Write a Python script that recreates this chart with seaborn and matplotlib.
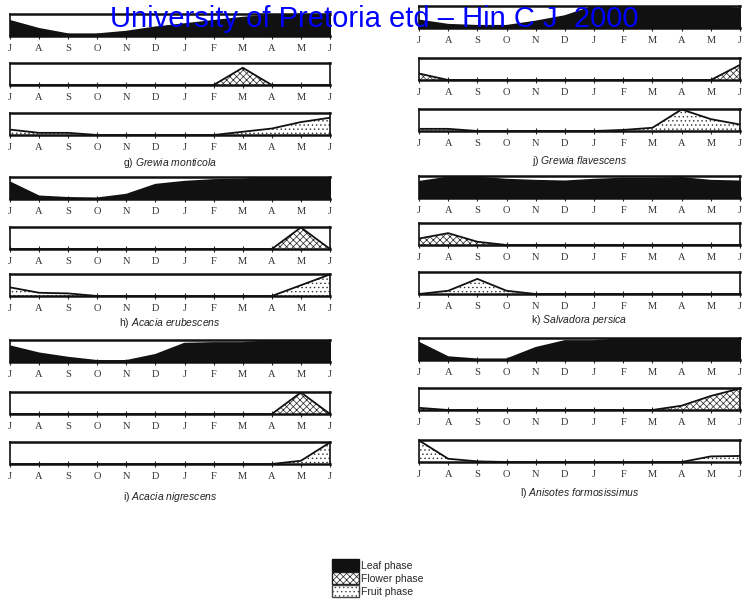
import matplotlib
matplotlib.use("Agg")
import matplotlib.pyplot as plt
import pandas as pd
import seaborn as sns
from matplotlib.patches import Patch

# ---------------- data (fraction of strip height, July -> June) ----------------
MONTHS = ["J", "A", "S", "O", "N", "D", "J", "F", "M", "A", "M", "J"]

grewia_monticola_leaf = [0.7, 0.33, 0.08, 0.08, 0.2, 0.4, 0.55, 0.7, 0.85, 0.95, 1.0, 1.0]
grewia_monticola_flower = [0, 0, 0, 0, 0, 0, 0, 0, 0.8, 0, 0, 0]
grewia_monticola_fruit = [0.25, 0.1, 0.1, 0, 0, 0, 0, 0, 0.15, 0.3, 0.6, 0.8]

acacia_erubescens_leaf = [0.77, 0.12, 0.05, 0.03, 0.2, 0.66, 0.8, 0.88, 0.9, 1.0, 1.0, 1.0]
acacia_erubescens_flower = [0, 0, 0, 0, 0, 0, 0, 0, 0, 0, 1.0, 0]
acacia_erubescens_fruit = [0.4, 0.15, 0.12, 0, 0, 0, 0, 0, 0, 0, 0.5, 1.0]

acacia_nigrescens_leaf = [0.73, 0.4, 0.2, 0.05, 0.05, 0.33, 0.85, 0.88, 0.88, 0.97, 1.0, 1.0]
acacia_nigrescens_flower = [0, 0, 0, 0, 0, 0, 0, 0, 0, 0, 1.0, 0]
acacia_nigrescens_fruit = [0, 0, 0, 0, 0, 0, 0, 0, 0, 0, 0.15, 1.0]

grewia_flavescens_leaf = [0.35, 0.15, 0.1, 0.1, 0.3, 0.55, 1.0, 1.0, 1.0, 1.0, 1.0, 0.9]
grewia_flavescens_flower = [0.3, 0, 0, 0, 0, 0, 0, 0, 0, 0, 0, 0.7]
grewia_flavescens_fruit = [0.1, 0.1, 0, 0, 0, 0, 0, 0.05, 0.15, 1.0, 0.55, 0.3]

salvadora_persica_leaf = [0.75, 0.95, 0.95, 0.85, 0.8, 0.77, 0.85, 0.9, 0.9, 0.93, 0.8, 0.77]
salvadora_persica_flower = [0.3, 0.55, 0.15, 0, 0, 0, 0, 0, 0, 0, 0, 0]
salvadora_persica_fruit = [0, 0.15, 0.7, 0.15, 0, 0, 0, 0, 0, 0, 0, 0]

anisotes_leaf = [0.8, 0.13, 0.03, 0.03, 0.56, 0.88, 0.88, 0.97, 1.0, 1.0, 0.97, 0.97]
anisotes_flower = [0.1, 0, 0, 0, 0, 0, 0, 0, 0, 0.2, 0.65, 1.0]
anisotes_fruit = [1.0, 0.15, 0.03, 0, 0, 0, 0, 0, 0, 0, 0.26, 0.28]

PANELS = [
    ("g)", "Grewia monticola", grewia_monticola_leaf, grewia_monticola_flower, grewia_monticola_fruit),
    ("h)", "Acacia erubescens", acacia_erubescens_leaf, acacia_erubescens_flower, acacia_erubescens_fruit),
    ("i)", "Acacia nigrescens", acacia_nigrescens_leaf, acacia_nigrescens_flower, acacia_nigrescens_fruit),
    ("j)", "Grewia flavescens", grewia_flavescens_leaf, grewia_flavescens_flower, grewia_flavescens_fruit),
    ("k)", "Salvadora persica", salvadora_persica_leaf, salvadora_persica_flower, salvadora_persica_fruit),
    ("l)", "Anisotes formosissimus", anisotes_leaf, anisotes_flower, anisotes_fruit),
]

# ---------------- layout (pixels) ----------------
W, H = 743, 602
COL_X = [(10, 330), (419, 740)]
STRIP_TOPS = [
    [(14, 63, 113), (177, 227, 274), (340, 392, 442)],
    [(6, 58, 109), (176, 223, 272), (338, 388, 440)],
]
TITLE_Y = [[163, 323, 497], [161, 320, 493]]
STRIP_H = 22

sns.set_style("white")
plt.rcParams["hatch.linewidth"] = 0.5
plt.rcParams["mathtext.fontset"] = "custom"
plt.rcParams["mathtext.it"] = "Liberation Sans:italic"
plt.rcParams["mathtext.rm"] = "Liberation Sans"

fig = plt.figure(figsize=(W / 100, H / 100), dpi=100)


def px_axes(x0, x1, top):
    return fig.add_axes([x0 / W, 1 - (top + STRIP_H) / H, (x1 - x0) / W, STRIP_H / H])


def draw_strip(ax, values, phase):
    df = pd.DataFrame({"month": range(len(MONTHS)), "value": values})
    if phase == "leaf":
        ax.fill_between(df["month"], 0, df["value"], facecolor="#111111", edgecolor="#111111", lw=0.8)
    elif phase == "flower":
        ax.fill_between(df["month"], 0, df["value"], facecolor="white", edgecolor="#222222",
                        hatch="xxxxx", lw=0)
    else:
        ax.fill_between(df["month"], 0, df["value"], facecolor="white", edgecolor="#333333",
                        hatch="....", lw=0)
    sns.lineplot(data=df, x="month", y="value", ax=ax, color="#111111", lw=1.3)
    ax.set_xlim(0, len(MONTHS) - 1)
    ax.set_ylim(0, 1.02)
    ax.set_xticks(range(len(MONTHS)))
    ax.set_xticklabels(MONTHS, family="Liberation Serif", fontsize=7.5, color="#333333")
    ax.set_yticks([])
    ax.set_xlabel("")
    ax.set_ylabel("")
    ax.tick_params(axis="x", direction="inout", length=5, width=0.8, pad=3, bottom=True)
    for side, sp in ax.spines.items():
        sp.set_visible(True)
        sp.set_color("#111111")
        sp.set_linewidth(1.8 if side in ("top", "bottom") else 1.2)


for i, (letter, name, leaf, flower, fruit) in enumerate(PANELS):
    col, row = divmod(i, 3)
    x0, x1 = COL_X[col]
    for top, vals, phase in zip(STRIP_TOPS[col][row], (leaf, flower, fruit), ("leaf", "flower", "fruit")):
        draw_strip(px_axes(x0, x1, top), vals, phase)
    label = letter + " $\\it{" + name.replace(" ", "\\ ") + "}$"
    fig.text((x0 + x1) / 2 / W, 1 - TITLE_Y[col][row] / H, label, ha="center", va="center",
             family="Liberation Sans", fontsize=7.5, color="#222222")

fig.text(374 / W, 1 - 27 / H, "University of Pretoria etd \u2013 Hin C J  2000", ha="center",
         va="baseline", color="#0000ff", fontsize=21, family="Liberation Sans")

handles = [
    Patch(facecolor="#111111", edgecolor="#111111", label="Leaf phase"),
    Patch(facecolor="white", edgecolor="#222222", hatch="xxxxx", label="Flower phase"),
    Patch(facecolor="white", edgecolor="#444444", hatch="....", label="Fruit phase"),
]
fig.legend(handles=handles, loc="upper left", bbox_to_anchor=(327 / W, 1 - 554 / H), frameon=False,
           prop={"family": "Liberation Sans", "size": 7.5}, handlelength=2.6, handleheight=1.4,
           handletextpad=0.2, labelspacing=0.1, borderpad=0)

fig.savefig("out.png", dpi=100)
